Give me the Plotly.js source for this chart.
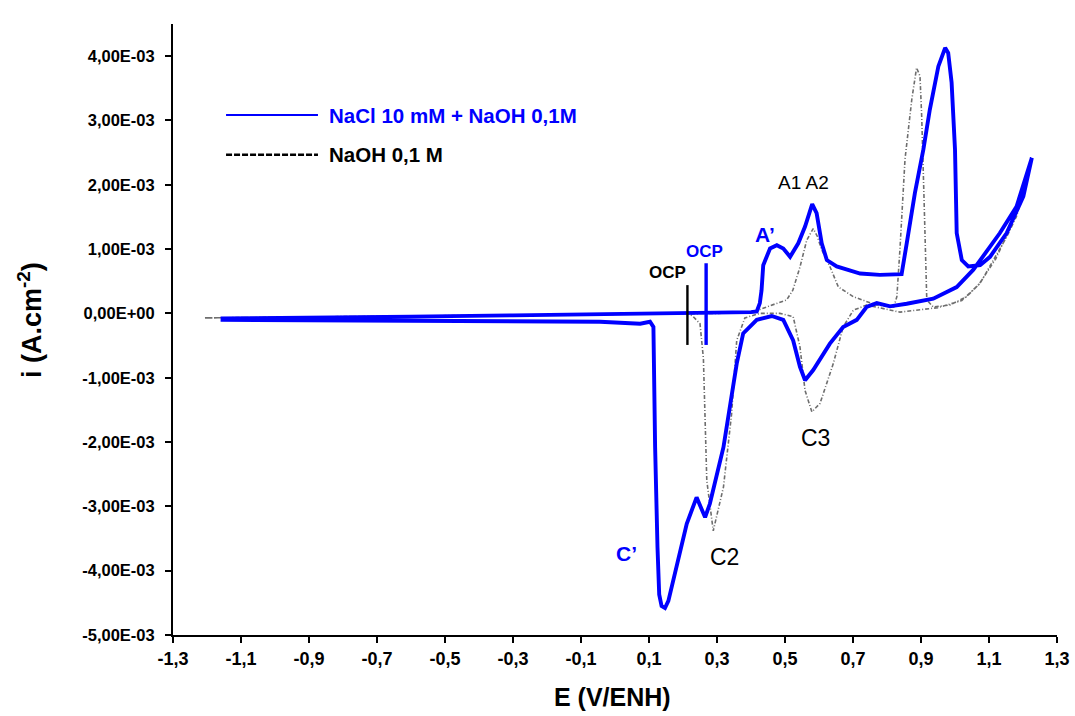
<!DOCTYPE html>
<html>
<head>
<meta charset="utf-8">
<script src="https://cdn.plot.ly/plotly-3.0.1.min.js"></script>
<style>html,body{margin:0;padding:0;background:#fff;}#chart{width:1075px;height:716px;}</style>
</head>
<body>
<div id="chart"></div>
<script>
// NaCl 10 mM + NaOH 0,1M (blue) : potential E (V/ENH) and current density i (A.cm-2)
const blueE = [-1.16, -0.9, -0.6, -0.3, 0.0, 0.2, 0.40, 0.417, 0.426, 0.431, 0.436, 0.456, 0.476, 0.495, 0.515, 0.539, 0.559, 0.580, 0.593, 0.608, 0.623, 0.652, 0.721, 0.779, 0.843, 0.858, 0.882, 0.907, 0.926, 0.951, 0.971, 0.980, 0.990, 1.000, 1.005, 1.020, 1.039, 1.074, 1.103, 1.152, 1.201, 1.226,
  1.181, 1.132, 1.083, 1.054, 1.005, 0.936, 0.858, 0.809, 0.770, 0.740, 0.711, 0.691, 0.671, 0.632, 0.583, 0.559, 0.544, 0.524, 0.495, 0.461, 0.417, 0.377, 0.358, 0.319, 0.279, 0.265, 0.240, 0.211, 0.157, 0.147, 0.137, 0.130, 0.125, 0.118, 0.113, 0.103, 0.074, -0.044, -0.5, -1.16];
const blueI = [-0.08e-3, -0.07e-3, -0.05e-3, -0.03e-3, -0.01e-3, 0.0, 0.02e-3, 0.03e-3, 0.16e-3, 0.36e-3, 0.75e-3, 1.01e-3, 1.06e-3, 1.01e-3, 0.88e-3, 1.09e-3, 1.35e-3, 1.70e-3, 1.56e-3, 1.09e-3, 0.83e-3, 0.73e-3, 0.62e-3, 0.60e-3, 0.61e-3, 1.09e-3, 1.87e-3, 2.55e-3, 3.17e-3, 3.84e-3, 4.13e-3, 4.05e-3, 3.59e-3, 2.55e-3, 1.25e-3, 0.83e-3, 0.73e-3, 0.75e-3, 0.88e-3, 1.25e-3, 1.82e-3, 2.42e-3,
  1.66e-3, 1.25e-3, 0.88e-3, 0.68e-3, 0.41e-3, 0.23e-3, 0.15e-3, 0.11e-3, 0.16e-3, 0.10e-3, -0.10e-3, -0.15e-3, -0.21e-3, -0.47e-3, -0.88e-3, -1.04e-3, -0.83e-3, -0.42e-3, -0.10e-3, -0.04e-3, -0.10e-3, -0.31e-3, -0.78e-3, -2.08e-3, -2.96e-3, -3.17e-3, -2.86e-3, -3.27e-3, -4.47e-3, -4.58e-3, -4.55e-3, -4.37e-3, -3.64e-3, -2.08e-3, -0.21e-3, -0.13e-3, -0.16e-3, -0.13e-3, -0.12e-3, -0.10e-3];

// NaOH 0,1 M (grey dash-dot)
const greyE = [-1.206, -1.0, -0.6, -0.2, 0.1, 0.3, 0.40, 0.426, 0.456, 0.485, 0.505, 0.523, 0.544, 0.564, 0.583, 0.595, 0.608, 0.632, 0.657, 0.701, 0.769, 0.820, 0.829, 0.838, 0.848, 0.853, 0.873, 0.887, 0.897, 0.902, 0.909, 0.915, 0.917, 0.936, 0.985, 1.034, 1.074, 1.113, 1.152, 1.181, 1.215,
  1.19, 1.16, 1.12, 1.07, 1.02, 0.95, 0.838, 0.740, 0.701, 0.671, 0.642, 0.603, 0.579, 0.559, 0.544, 0.524, 0.485, 0.426, 0.382, 0.358, 0.343, 0.319, 0.289, 0.270, 0.260, 0.250, 0.230, 0.216, -0.2, -0.6, -1.0, -1.206];
const greyI = [-0.07e-3, -0.06e-3, -0.04e-3, -0.02e-3, -0.01e-3, 0.0, 0.02e-3, 0.06e-3, 0.12e-3, 0.17e-3, 0.21e-3, 0.36e-3, 0.72e-3, 1.14e-3, 1.32e-3, 1.20e-3, 0.99e-3, 0.73e-3, 0.41e-3, 0.26e-3, 0.13e-3, 0.10e-3, 0.26e-3, 0.99e-3, 1.82e-3, 2.40e-3, 3.33e-3, 3.82e-3, 3.69e-3, 3.07e-3, 1.77e-3, 0.73e-3, 0.21e-3, 0.10e-3, 0.13e-3, 0.26e-3, 0.47e-3, 0.83e-3, 1.19e-3, 1.51e-3, 2.16e-3,
  1.75e-3, 1.30e-3, 0.85e-3, 0.45e-3, 0.20e-3, 0.09e-3, 0.02e-3, 0.13e-3, 0.05e-3, -0.21e-3, -0.78e-3, -1.40e-3, -1.53e-3, -1.20e-3, -0.52e-3, -0.05e-3, 0.0, 0.0, -0.07e-3, -0.42e-3, -1.56e-3, -2.70e-3, -3.38e-3, -2.60e-3, -0.70e-3, -0.16e-3, -0.05e-3, 0.0, -0.02e-3, -0.04e-3, -0.06e-3, -0.07e-3];

// OCP markers: [black (NaOH), blue (NaCl+NaOH)]
const ocpE = [0.213, 0.268];
const ocpTop = [0.44e-3, 0.78e-3];
const ocpBottom = [-0.49e-3, -0.49e-3];

// axis ticks
const xTickVals = [-1.3, -1.1, -0.9, -0.7, -0.5, -0.3, -0.1, 0.1, 0.3, 0.5, 0.7, 0.9, 1.1, 1.3];
const xTickText = ['-1,3', '-1,1', '-0,9', '-0,7', '-0,5', '-0,3', '-0,1', '0,1', '0,3', '0,5', '0,7', '0,9', '1,1', '1,3'];
const yTickVals = [4e-3, 3e-3, 2e-3, 1e-3, 0, -1e-3, -2e-3, -3e-3, -4e-3, -5e-3];
const yTickText = ['4,00E-03', '3,00E-03', '2,00E-03', '1,00E-03', '0,00E+00', '-1,00E-03', '-2,00E-03', '-3,00E-03', '-4,00E-03', '-5,00E-03'];

// axis titles
const xTitle = 'E (V/ENH)';
const yTitle = 'i (A.cm<sup>-2</sup>)';

// peak labels
const peakLabels = ['A3', 'A1 A2', "A’", 'OCP', 'OCP', 'C3', 'C2', "C’"];
const peakE = [0.891, 0.553, 0.441, 0.153, 0.262, 0.591, 0.321, 0.035];
const peakI = [4.62e-3, 2.03e-3, 1.22e-3, 0.64e-3, 0.97e-3, -1.94e-3, -3.78e-3, -3.74e-3];
const peakColors = ['#000', '#000', '#0000ff', '#000', '#0000ff', '#000', '#000', '#0000ff'];
const peakBold = [false, false, true, true, true, false, false, true];
const peakSize = [22, 19, 21, 17, 17, 23, 23, 21];

const legendNames = ['NaCl 10 mM + NaOH 0,1M', 'NaOH 0,1 M'];

const FONT = 'Liberation Sans, Arial, sans-serif';
const NARROW = 'Liberation Sans Narrow, Arial Narrow, Liberation Sans, Arial, sans-serif';

const traces = [
  { x: greyE, y: greyI, mode: 'lines', line: { color: '#6e6e6e', width: 1.6, dash: '4px,2px,1px,2px' }, hoverinfo: 'skip' },
  { x: blueE, y: blueI, mode: 'lines', line: { color: '#0000ff', width: 3.9 }, hoverinfo: 'skip' },
  { x: [ocpE[0], ocpE[0]], y: [ocpTop[0], ocpBottom[0]], mode: 'lines', line: { color: '#000', width: 2.4 }, hoverinfo: 'skip' },
  { x: [ocpE[1], ocpE[1]], y: [ocpTop[1], ocpBottom[1]], mode: 'lines', line: { color: '#0000ff', width: 3.4 }, hoverinfo: 'skip' }
];

const annotations = peakLabels.map((t, k) => ({
  x: peakE[k], y: peakI[k], xref: 'x', yref: 'y',
  text: peakBold[k] ? '<b>' + t + '</b>' : t,
  showarrow: false,
  font: { family: FONT, size: peakSize[k], color: peakColors[k] },
  xanchor: 'center', yanchor: 'middle'
}));

// legend (drawn manually, like the reference)
annotations.push({ x: 0.174, y: 0.851, xref: 'paper', yref: 'paper', text: '<b>' + legendNames[0] + '</b>', showarrow: false, xanchor: 'left', yanchor: 'middle', font: { family: FONT, size: 20.5, color: '#0000ff' } });
annotations.push({ x: 0.174, y: 0.786, xref: 'paper', yref: 'paper', text: '<b>' + legendNames[1] + '</b>', showarrow: false, xanchor: 'left', yanchor: 'middle', font: { family: FONT, size: 20.5, color: '#000' } });

// axis titles
annotations.push({ x: 0.4977, y: -0.1015, xref: 'paper', yref: 'paper', text: '<b>' + xTitle + '</b>', showarrow: false, xanchor: 'center', yanchor: 'middle', font: { family: FONT, size: 25, color: '#000' } });
annotations.push({ x: -0.1618, y: 0.5155, xref: 'paper', yref: 'paper', text: '<b>' + yTitle + '</b>', showarrow: false, textangle: -90, xanchor: 'center', yanchor: 'middle', font: { family: FONT, size: 27, color: '#000' } });

const shapes = [
  { type: 'line', xref: 'paper', yref: 'paper', x0: 0.060, x1: 0.164, y0: 0.851, y1: 0.851, line: { color: '#0000ff', width: 2 } },
  { type: 'line', xref: 'paper', yref: 'paper', x0: 0.060, x1: 0.164, y0: 0.786, y1: 0.786, line: { color: '#000', width: 2.6, dash: '6px,2px' } }
];

const layout = {
  width: 1075, height: 716,
  margin: { l: 173, r: 18, t: 24, b: 81 },
  paper_bgcolor: '#fff', plot_bgcolor: '#fff',
  showlegend: false,
  font: { family: FONT, color: '#000' },
  xaxis: {
    range: [-1.3, 1.3], showgrid: false, zeroline: false,
    showline: true, linecolor: '#000', linewidth: 2,
    ticks: 'outside', ticklen: 6, tickwidth: 2, tickcolor: '#000',
    tickmode: 'array', tickvals: xTickVals, ticktext: xTickText,
    tickfont: { family: NARROW, size: 18, color: '#000', weight: 'bold' }
  },
  yaxis: {
    range: [-5e-3, 4.5e-3], showgrid: false, zeroline: false,
    showline: true, linecolor: '#000', linewidth: 2,
    ticks: 'outside', ticklen: 6, tickwidth: 2, tickcolor: '#000',
    tickmode: 'array', tickvals: yTickVals, ticktext: yTickText,
    tickfont: { family: FONT, size: 16.5, color: '#000', weight: 'bold' },
    ticklabelstandoff: 7
  },
  annotations: annotations,
  shapes: shapes
};

Plotly.newPlot('chart', traces, layout, { staticPlot: true, displayModeBar: false });
</script>
</body>
</html>
